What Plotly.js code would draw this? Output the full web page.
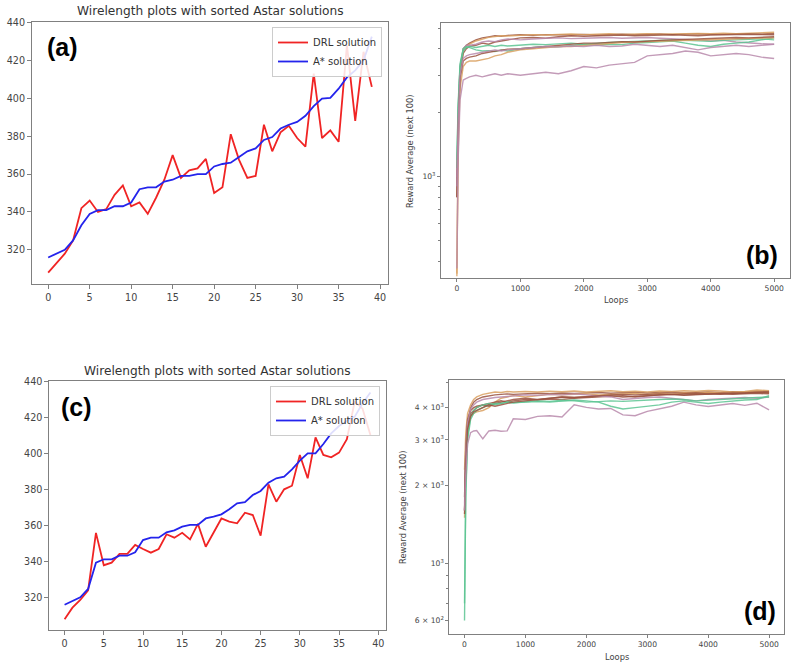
<!DOCTYPE html>
<html>
<head>
<meta charset="utf-8">
<script src="https://cdn.plot.ly/plotly-3.0.1.min.js"></script>
<style>html,body{margin:0;padding:0;background:#fff;}#chart{width:797px;height:666px;}</style>
</head>
<body>
<div id="chart"></div>
<script>
// ---------- Data: wirelength panels (a) and (c) ----------
const IDX = [0,1,2,3,4,5,6,7,8,9,10,11,12,13,14,15,16,17,18,19,20,21,22,23,24,25,26,27,28,29,30,31,32,33,34,35,36,37,38,39];
const drlA = [308,313,318,325,342,346,340,341.5,349,354,343,345,339,347.5,357,370,358,362,363,368,350,353,381,367.5,358,359,386,372,382,385.5,379,374.5,413,379,383,377,428,388,424.5,406];
const astarA = [316,318,320,325,333,339,341,341,343,343,345,352,353,353,356,357,359,359,360,360,364,365.3,366,369,372,373.5,378,379.5,384,386,387.5,390.7,395.8,399.8,400.2,405,411,414.7,420,432.5];
const drlC = [308,314.4,318.7,324,356,338,339.4,344.3,344.3,349.3,347,345,347,355.2,353.3,356,352.4,361,348.3,356,364,362.2,361.3,367.2,365.9,354.4,383,373.3,380.2,382.2,399.3,386.3,409,399.3,398,400.6,408,429,425,410.4];
const astarC = [316,318,320.2,324.8,339.4,341.3,341.3,343.3,343.3,345.2,352,353.3,353.3,356.3,357.4,359.4,360.4,360.4,364,365,366.3,369.1,372.4,373.1,377,379.3,383.9,386.3,387.2,391.3,396.1,400.2,400.2,405.4,411.3,415.4,418.3,420.6,428,434];
const xTicksWL = [0,5,10,15,20,25,30,35,40];
const yTicksWL = [320,340,360,380,400,420,440];

// ---------- Data: reward panels (b) and (d) ----------
const LOOPS = [0,20,50,100,150,200,300,400,500,600,700,800,1000,1200,1400,1600,1800,2000,2200,2400,2600,2800,3000,3200,3400,3600,3800,4000,4200,4400,4600,4800,4999];
const rewardB = {
  brown1:  [800,1900,3200,4000,4150,4250,4400,4500,4550,4600,4580,4620,4650,4630,4660,4640,4650,4670,4640,4660,4680,4650,4670,4690,4660,4680,4700,4670,4690,4700,4710,4690,4720],
  orange1: [350,1500,3000,3900,4100,4200,4350,4450,4520,4560,4600,4590,4640,4660,4640,4670,4690,4660,4680,4700,4670,4690,4710,4680,4700,4690,4720,4700,4730,4710,4740,4760,4780],
  brown2:  [900,1800,3000,3800,4000,4100,4150,4250,4200,4300,4350,4400,4500,4520,4480,4550,4600,4580,4600,4620,4640,4600,4620,4640,4650,4620,4600,4640,4660,4650,4680,4660,4650],
  mauve1:  [1000,2000,3300,4000,4150,4150,4200,4300,4350,4320,4400,4450,4400,4450,4480,4500,4460,4480,4500,4520,4480,4500,4520,4480,4460,4420,4400,4350,4380,4300,4250,4220,4200],
  green1:  [1200,2200,3400,4000,4100,4050,3950,3900,3920,3880,3950,3900,4000,4050,4100,4080,4150,4200,4150,4200,4180,4250,4280,4300,4350,4250,4150,4100,4200,4250,4300,4400,4500],
  green2:  [1100,2100,3300,3900,4050,4100,4050,4100,4150,4100,4150,4120,4150,4200,4180,4220,4250,4200,4250,4280,4300,4320,4350,4380,4400,4380,4350,4330,4380,4400,4420,4450,4400],
  orange2: [340,1300,2600,3300,3450,3500,3500,3550,3600,3700,3750,3850,3950,4000,4050,4100,4100,4150,4200,4250,4280,4300,4320,4350,4380,4400,4420,4430,4450,4460,4480,4490,4500],
  brown3:  [800,1700,2900,3500,3600,3650,3700,3800,3850,3900,3950,3980,4000,4050,4100,4150,4200,4250,4250,4300,4320,4300,4350,4380,4400,4420,4450,4480,4500,4520,4500,4520,4550],
  mauve2:  [900,1800,3000,3600,3700,3750,3800,3850,3900,3950,3900,3950,4000,4050,4100,4080,4120,4100,4150,4100,4120,4200,4150,4100,4150,4050,3950,4050,4100,4150,4100,4150,4200],
  mauve3:  [370,1200,2300,2850,2900,2950,3000,2950,3000,3050,3000,3050,3000,3050,3100,3050,3150,3300,3250,3350,3400,3450,3700,3750,3800,3900,3850,3700,3750,3800,3750,3650,3600]
};
const rewardD = {
  brown1:  [1600,2600,3500,4000,4200,4300,4400,4450,4480,4500,4520,4500,4520,4550,4530,4560,4540,4560,4580,4550,4570,4590,4560,4580,4600,4570,4590,4600,4580,4610,4600,4630,4620],
  orange1: [2300,3200,3800,4100,4300,4400,4500,4550,4600,4580,4620,4600,4620,4600,4630,4610,4640,4600,4620,4650,4610,4630,4600,4640,4620,4650,4630,4660,4640,4600,4620,4680,4650],
  orange2: [1500,2400,3300,3700,3800,3850,3900,4000,4200,4350,4400,4450,4400,4450,4500,4480,4500,4520,4480,4500,4520,4540,4500,4550,4520,4560,4540,4580,4560,4550,4580,4600,4560],
  brown2:  [1800,2800,3600,3900,4000,4050,4100,4150,4200,4250,4200,4250,4300,4280,4320,4300,4350,4380,4400,4420,4450,4400,4450,4480,4500,4480,4500,4520,4500,4540,4560,4580,4600],
  brown3:  [1600,2500,3400,3800,3900,4000,4100,4050,4150,4200,4250,4300,4350,4300,4350,4400,4380,4400,4420,4450,4400,4430,4460,4480,4500,4460,4480,4500,4530,4500,4520,4540,4520],
  mauve1:  [1700,2700,3500,3950,4100,4200,4300,4350,4380,4400,4420,4450,4480,4460,4500,4480,4520,4480,4450,4400,4300,4350,4380,4400,4350,4300,4250,4300,4320,4350,4380,4350,4400],
  green1:  [600,1800,3000,3600,3800,3900,4000,4100,4150,4150,4200,4180,4200,4220,4200,4250,4280,4250,4200,4050,3950,4000,4050,4100,4200,4250,4200,4150,4200,4250,4280,4300,4450],
  green2:  [700,1900,3100,3700,3900,4000,4100,4150,4100,4150,4200,4180,4220,4250,4230,4270,4250,4200,4220,4250,4230,4260,4280,4300,4320,4300,4250,4280,4300,4320,4350,4380,4400],
  brown4:  [1550,2400,3300,3700,3850,3900,4000,4100,4050,4100,4150,4200,4250,4300,4350,4400,4380,4420,4450,4480,4500,4480,4500,4520,4500,4530,4550,4520,4540,4560,4550,4580,4560],
  mauve2:  [1600,2200,2900,3200,3250,3260,3030,3250,3270,3240,3250,3620,3600,3700,3720,3680,4100,4010,3950,3970,3750,3720,3870,3950,4050,4200,4100,4040,4100,4150,4080,4160,3920]
};
const xTicksLoops = [0,1000,2000,3000,4000,5000];

const COLORS = {
  brown: '#9a5240', orange: '#d9a060', green: '#5cc492', mauve: '#b98aab'
};
function colorOf(name){ return COLORS[name.replace(/[0-9]/g,'')]; }

// ---------- Traces ----------
const traces = [];
traces.push({x: IDX, y: drlA, type:'scatter', mode:'lines', name:'DRL solution', line:{color:'#f02424', width:1.8}, xaxis:'x', yaxis:'y', legend:'legend'});
traces.push({x: IDX, y: astarA, type:'scatter', mode:'lines', name:'A* solution', line:{color:'#2424ec', width:1.8}, xaxis:'x', yaxis:'y', legend:'legend'});
traces.push({x: IDX, y: drlC, type:'scatter', mode:'lines', name:'DRL solution', line:{color:'#f02424', width:1.8}, xaxis:'x3', yaxis:'y3', legend:'legend2'});
traces.push({x: IDX, y: astarC, type:'scatter', mode:'lines', name:'A* solution', line:{color:'#2424ec', width:1.8}, xaxis:'x3', yaxis:'y3', legend:'legend2'});
Object.keys(rewardB).forEach(k => traces.push({x: LOOPS, y: rewardB[k], type:'scatter', mode:'lines', showlegend:false, opacity:0.85, line:{color: colorOf(k), width:1.4}, xaxis:'x2', yaxis:'y2'}));
Object.keys(rewardD).forEach(k => traces.push({x: LOOPS, y: rewardD[k], type:'scatter', mode:'lines', showlegend:false, opacity:0.85, line:{color: colorOf(k), width:1.4}, xaxis:'x4', yaxis:'y4'}));

// ---------- Layout ----------
const W = 797, H = 666;
const px = v => v / W;
const py = v => 1 - v / H;
function ax(size, extra){
  return Object.assign({
    showline:true, mirror:true, linecolor:'#808080', linewidth:1,
    ticks:'outside', ticklen:4, tickcolor:'#808080', tickwidth:1,
    tickfont:{family:'DejaVu Sans', size:size, color:'#444'},
    showgrid:false, zeroline:false, fixedrange:true
  }, extra);
}
const legendStyle = {
  font:{family:'DejaVu Sans', size:10, color:'#333'},
  bgcolor:'rgba(255,255,255,0.85)', bordercolor:'#cccccc', borderwidth:1,
  xanchor:'right', yanchor:'top', itemwidth:30, tracegroupgap:0
};
const titleFont = {family:'DejaVu Sans', size:12.2, color:'#333'};
const labelFont = {family:'Liberation Sans, Arial', size:25, color:'#000'};
const axTitleFont = {family:'DejaVu Sans', size:8.3, color:'#444'};
const WLF = 9.6, RWF = 7.6;

const layout = {
  width: W, height: H,
  margin:{l:0, r:0, t:0, b:0},
  paper_bgcolor:'#fff', plot_bgcolor:'#fff',
  showlegend:true,
  xaxis: ax(WLF, {domain:[px(32), px(388)], anchor:'y', range:[-1.95, 40.95], tickmode:'array', tickvals:xTicksWL}),
  yaxis: ax(WLF, {domain:[py(284), py(22)], anchor:'x', range:[302, 440.2], tickmode:'array', tickvals:yTicksWL}),
  xaxis2: ax(RWF, {domain:[px(441), px(790)], anchor:'y2', range:[-250, 5249], tickmode:'array', tickvals:xTicksLoops, ticklen:3}),
  yaxis2: ax(RWF, {domain:[py(278), py(23)], anchor:'x2', type:'log', range:[2.5235, 3.723], tickmode:'array', tickvals:[1000], ticktext:['10<sup>3</sup>'], ticklen:3,
    minor:{tickmode:'array', tickvals:[400,500,600,700,800,900,2000,3000,4000,5000], ticks:'outside', ticklen:2, tickcolor:'#808080'}}),
  xaxis3: ax(WLF, {domain:[px(49.3), px(385.7)], anchor:'y3', range:[-1.95, 40.95], tickmode:'array', tickvals:xTicksWL}),
  yaxis3: ax(WLF, {domain:[py(630), py(381)], anchor:'x3', range:[302, 440.4], tickmode:'array', tickvals:yTicksWL}),
  xaxis4: ax(RWF, {domain:[px(449.3), px(784.3)], anchor:'y4', range:[-250, 5249], tickmode:'array', tickvals:xTicksLoops, ticklen:3}),
  yaxis4: ax(RWF, {domain:[py(634), py(380)], anchor:'x4', type:'log', range:[2.726, 3.709], tickmode:'array', ticklen:3,
    tickvals:[600,1000,2000,3000,4000], ticktext:['6 × 10<sup>2</sup>','10<sup>3</sup>','2 × 10<sup>3</sup>','3 × 10<sup>3</sup>','4 × 10<sup>3</sup>'],
    minor:{tickmode:'array', tickvals:[700,800,900,5000], ticks:'outside', ticklen:2, tickcolor:'#808080'}}),
  legend: Object.assign({}, legendStyle, {x: px(382), y: py(27)}),
  legend2: Object.assign({}, legendStyle, {x: px(380), y: py(386)}),
  annotations: [
    {text:'Wirelength plots with sorted Astar solutions', xref:'paper', yref:'paper', x:px(210), y:py(11), xanchor:'center', yanchor:'middle', showarrow:false, font:titleFont},
    {text:'Wirelength plots with sorted Astar solutions', xref:'paper', yref:'paper', x:px(217.5), y:py(370.5), xanchor:'center', yanchor:'middle', showarrow:false, font:titleFont},
    {text:'<b>(a)</b>', xref:'paper', yref:'paper', x:px(62), y:py(47), xanchor:'center', yanchor:'middle', showarrow:false, font:labelFont},
    {text:'<b>(b)</b>', xref:'paper', yref:'paper', x:px(762), y:py(255), xanchor:'center', yanchor:'middle', showarrow:false, font:labelFont},
    {text:'<b>(c)</b>', xref:'paper', yref:'paper', x:px(76), y:py(407), xanchor:'center', yanchor:'middle', showarrow:false, font:labelFont},
    {text:'<b>(d)</b>', xref:'paper', yref:'paper', x:px(760), y:py(611), xanchor:'center', yanchor:'middle', showarrow:false, font:labelFont},
    {text:'Reward Average (next 100)', xref:'paper', yref:'paper', x:px(410), y:py(151), xanchor:'center', yanchor:'middle', textangle:-90, showarrow:false, font:axTitleFont},
    {text:'Loops', xref:'paper', yref:'paper', x:px(615.5), y:py(300), xanchor:'center', yanchor:'middle', showarrow:false, font:axTitleFont},
    {text:'Reward Average (next 100)', xref:'paper', yref:'paper', x:px(403), y:py(507), xanchor:'center', yanchor:'middle', textangle:-90, showarrow:false, font:axTitleFont},
    {text:'Loops', xref:'paper', yref:'paper', x:px(617), y:py(657), xanchor:'center', yanchor:'middle', showarrow:false, font:axTitleFont}
  ]
};

Plotly.newPlot('chart', traces, layout, {displayModeBar:false, staticPlot:true});
</script>
</body>
</html>
